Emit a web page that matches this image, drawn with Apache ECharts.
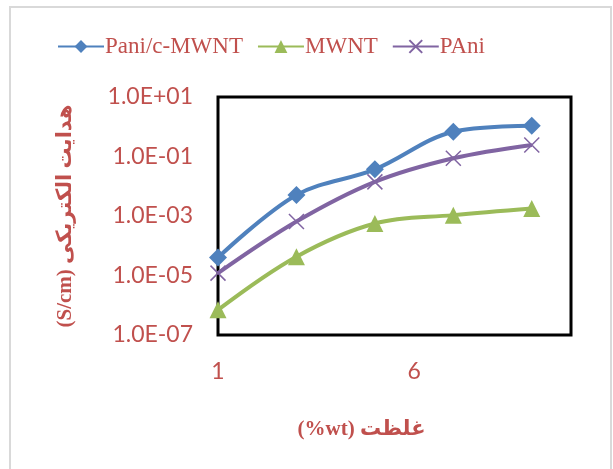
<!DOCTYPE html>
<html>
<head>
<meta charset="utf-8">
<script src="https://cdn.jsdelivr.net/npm/echarts@6/dist/echarts.min.js"></script>
<style>
  html, body { margin: 0; padding: 0; background: #fff; }
  #chart { width: 613px; height: 469px; }
</style>
</head>
<body>
<div id="chart"></div>
<script>
// concentration (wt%)
const xValues = [1, 3, 5, 7, 9];
// conductivity (S/cm)
const paniCMwnt = [4.0e-5, 5.1e-3, 3.7e-2, 0.68, 1.08];
const mwnt = [7.0e-7, 4.3e-5, 5.6e-4, 1.07e-3, 1.8e-3];
const pani = [1.2e-5, 6.5e-4, 1.4e-2, 8.7e-2, 0.245];
const seriesNames = ["Pani/c-MWNT", "MWNT", "PAni"];

const red = "#C0504D";
const serif = "'Liberation Serif', 'Times New Roman', 'DejaVu Sans', serif";
const sans = "Lato, Carlito, 'Open Sans', sans-serif";
const crossPath = "path://M0,0L10,10M10,0L0,10";

function pairs(ys) {
  return xValues.map((x, i) => [x, ys[i]]);
}
function sci(v) {
  const e = Math.round(Math.log10(v));
  const m = v / Math.pow(10, e);
  const sign = e < 0 ? "-" : "+";
  const abs = Math.abs(e);
  return m.toFixed(1) + "E" + sign + (abs < 10 ? "0" + abs : abs);
}

const chart = echarts.init(document.getElementById("chart"));
chart.setOption({
  animation: false,
  backgroundColor: "#fff",
  graphic: [{
    type: "rect",
    shape: { x: 10, y: 7, width: 601, height: 470 },
    style: { fill: "none", stroke: "#D9D9D9", lineWidth: 2 },
    z: -1
  }],
  legend: {
    top: 30,
    left: 52,
    itemWidth: 46,
    itemHeight: 16,
    itemGap: 14,
    textStyle: { color: red, fontFamily: serif, fontSize: 23, padding: [0, 0, 0, -4] },
    data: seriesNames
  },
  grid: {
    left: 218, top: 97, right: 42, bottom: 134,
    show: true,
    borderColor: "#000",
    borderWidth: 3,
    containLabel: false
  },
  xAxis: {
    type: "value",
    min: 1,
    max: 10,
    interval: 5,
    name: "(%wt) غلظت",
    nameLocation: "middle",
    nameGap: 84,
    nameTextStyle: {
      color: red, fontFamily: serif, fontSize: 21, fontWeight: "bold",
      padding: [0, 66, 0, 0]
    },
    axisLine: { show: false },
    axisTick: { show: false },
    splitLine: { show: false },
    axisLabel: {
      color: red, fontFamily: sans, fontSize: 23, margin: 25,
      showMaxLabel: false
    }
  },
  yAxis: {
    type: "log",
    logBase: 10,
    min: 1e-7,
    max: 10,
    interval: 2,
    name: "(S/cm) هدایت الکتریکی",
    nameLocation: "middle",
    nameRotate: 90,
    nameGap: 142,
    nameTextStyle: { color: red, fontFamily: serif, fontSize: 21, fontWeight: "bold" },
    axisLine: { show: false },
    axisTick: { show: false },
    splitLine: { show: false },
    axisLabel: {
      color: red, fontFamily: sans, fontSize: 23, margin: 25,
      formatter: (v) => sci(v)
    }
  },
  series: [
    {
      name: seriesNames[0], type: "line", smooth: 0.35,
      data: pairs(paniCMwnt),
      symbol: "diamond", symbolSize: 18,
      lineStyle: { color: "#4F81BD", width: 4 },
      itemStyle: { color: "#4F81BD" }
    },
    {
      name: seriesNames[1], type: "line", smooth: 0.35,
      data: pairs(mwnt),
      symbol: "triangle", symbolSize: 17,
      lineStyle: { color: "#9BBB59", width: 4 },
      itemStyle: { color: "#9BBB59" }
    },
    {
      name: seriesNames[2], type: "line", smooth: 0.35,
      data: pairs(pani),
      symbol: crossPath, symbolSize: 15,
      lineStyle: { color: "#8064A2", width: 4 },
      itemStyle: { color: "none", borderColor: "#8064A2", borderWidth: 1.5 }
    }
  ]
});
</script>
</body>
</html>
